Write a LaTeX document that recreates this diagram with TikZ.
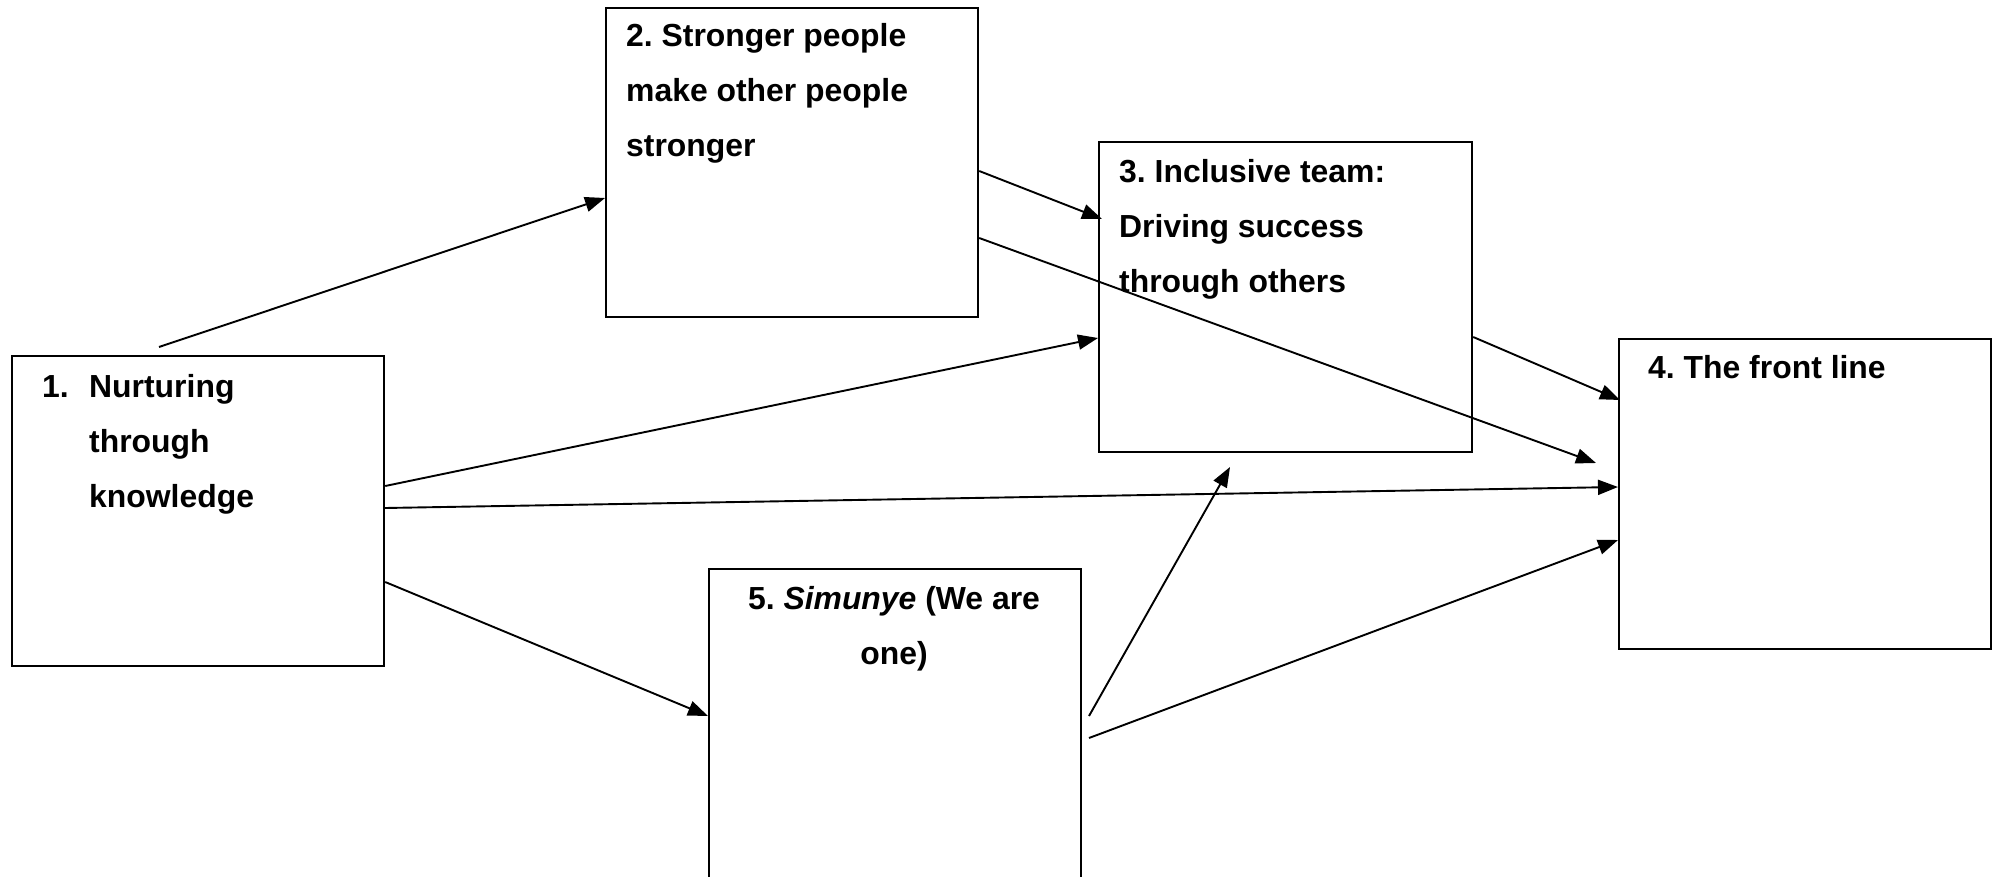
\documentclass[tikz,border=0pt]{standalone}
\usepackage{fontspec}
\setmainfont{Liberation Sans}
\usetikzlibrary{arrows.meta}
\frenchspacing
\begin{document}
\begin{tikzpicture}[x=1pt, y=-1pt,
  stagebox/.style={draw, line width=2.2pt, rectangle, anchor=north west, inner sep=0pt},
  boxtext/.style={inner sep=0pt, font=\bfseries\fontsize{31.9}{55}\selectfont},
  link/.style={line width=1.9pt, -{Triangle[length=20pt,width=15pt]}}]

\useasboundingbox (0,0) rectangle (1994,877);
\clip (0,0) rectangle (1994,877);

% the five stages
\node[stagebox, minimum width=372pt, minimum height=310pt] (b1) at (11,355) {};
\node[stagebox, minimum width=372pt, minimum height=309pt] (b2) at (605,7) {};
\node[stagebox, minimum width=373pt, minimum height=310pt] (b3) at (1098,141) {};
\node[stagebox, minimum width=372pt, minimum height=310pt] (b4) at (1618,338) {};
\node[stagebox, minimum width=372pt, minimum height=420pt] (b5) at (708,568) {};

% stage titles
\node[boxtext, anchor=base west] (t1) at (42,397)
  {\begin{tabular}[t]{@{}p{47pt}@{}l@{}}1. & Nurturing\\ & through\\ & knowledge\end{tabular}};
\node[boxtext, anchor=base west] (t2) at (626,47)
  {\begin{tabular}[t]{@{}l@{}}2. Stronger people\\make other people\\stronger\end{tabular}};
\node[boxtext, anchor=base west] (t3) at (1119,183)
  {\begin{tabular}[t]{@{}l@{}}3. Inclusive team:\\Driving success\\through others\end{tabular}};
\node[boxtext, anchor=base west] (t4) at (1648,378) {4. The front line};
\node[boxtext, anchor=base] (t5) at (894,609)
  {\begin{tabular}[t]{@{}c@{}}5. \textit{Simunye} (We are\\one)\end{tabular}};

% loose line ends
\coordinate (s12) at (159,347);
\coordinate (e24) at (1596,463);
\coordinate (s53) at (1089,716);
\coordinate (e53) at (1230,467);
\coordinate (s54) at (1089,738);

% connectors
\draw[link] (s12) -- (b2.west |- 0,198);
\draw[link] (b1.east |- 0,486) -- (b3.west |- 0,338);
\draw[link] (b1.east |- 0,508) -- (b4.west |- 0,487);
\draw[link] (b1.east |- 0,582) -- (b5.west |- 0,716);
\draw[link] (b2.east |- 0,171) -- ([xshift=4pt]b3.west |- 0,219);
\draw[link] (b2.east |- 0,238) -- (e24);
\draw[link] (b3.east |- 0,337) -- ([xshift=2pt]b4.west |- 0,400);
\draw[link] (s53) -- (e53);
\draw[link] (s54) -- (b4.west |- 0,540);
\end{tikzpicture}
\end{document}
